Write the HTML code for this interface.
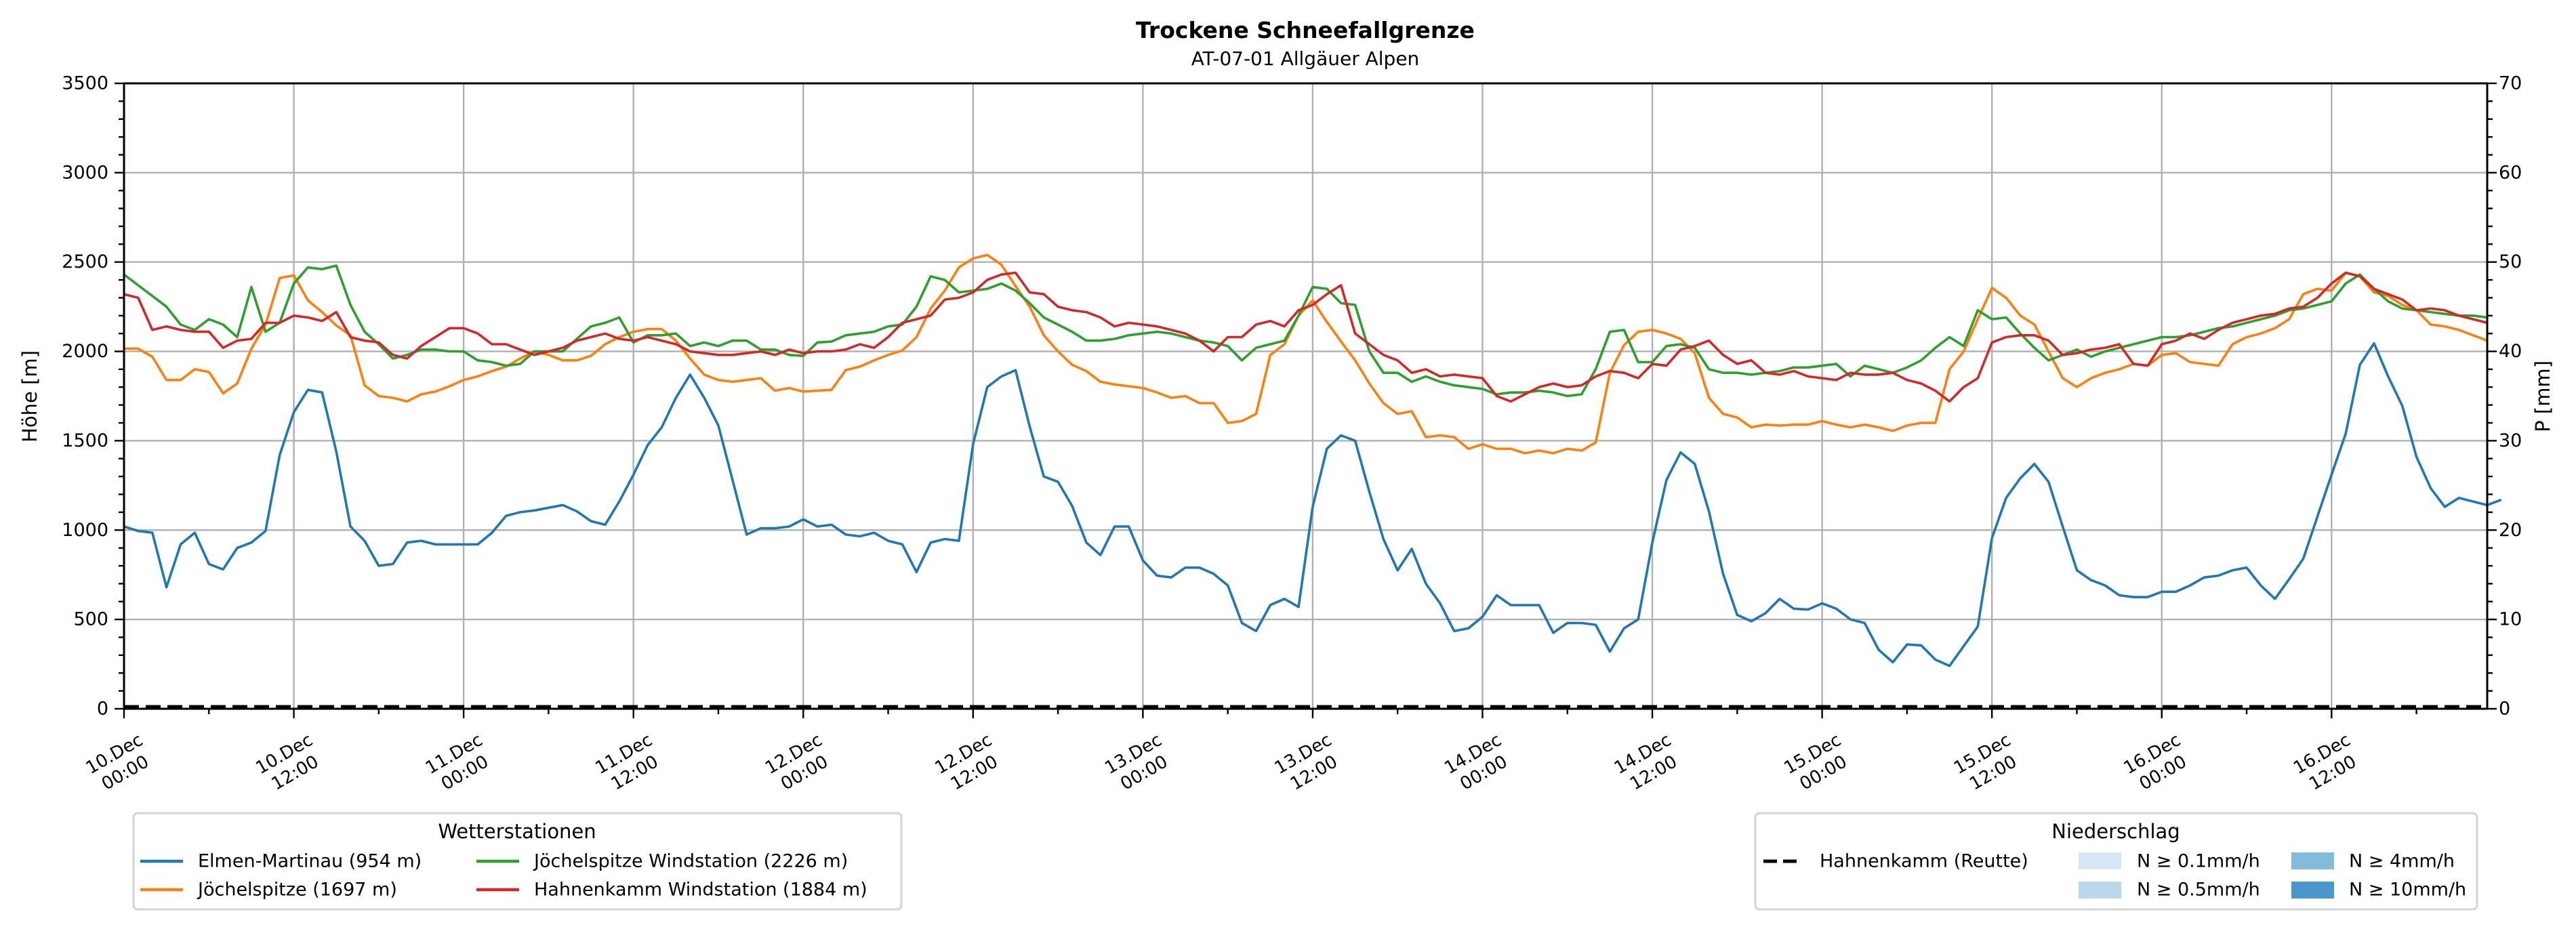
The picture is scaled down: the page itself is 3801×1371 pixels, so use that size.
<!DOCTYPE html>
<html><head><meta charset="utf-8"><style>
html,body{margin:0;padding:0;background:#fff;}
svg{display:block;font-family:"DejaVu Sans","Liberation Sans",sans-serif;}
</style></head><body>
<svg id="chart" width="3801" height="1371" viewBox="0 0 3801 1371" xmlns="http://www.w3.org/2000/svg">
<rect width="3801" height="1371" fill="#fff"/>
<text x="1926" y="56" text-anchor="middle" font-size="33" font-weight="bold">Trockene Schneefallgrenze</text>
<text x="1926" y="96" text-anchor="middle" font-size="28">AT-07-01 Allgäuer Alpen</text>
<g id="grid"></g>
<g id="series"></g>
<g id="axes"></g>
<text transform="translate(44,585) rotate(-90)" text-anchor="middle" dominant-baseline="central" font-size="29">Höhe [m]</text>
<text transform="translate(3752,585) rotate(-90)" text-anchor="middle" dominant-baseline="central" font-size="29">P [mm]</text>

<g>
<rect x="197" y="1200" width="1133" height="142" rx="6" fill="#fff" stroke="#d4d4d4" stroke-width="3"/>
<text x="763" y="1227" text-anchor="middle" dominant-baseline="central" font-size="29">Wetterstationen</text>
<g><line x1="207" y1="1271" x2="270" y2="1271" stroke="#1f77b4" stroke-width="4.5"/><text x="292" y="1271" dominant-baseline="central" font-size="27">Elmen-Martinau (954 m)</text></g>
<g><line x1="207" y1="1313" x2="270" y2="1313" stroke="#ff7f0e" stroke-width="4.5"/><text x="292" y="1313" dominant-baseline="central" font-size="27">Jöchelspitze (1697 m)</text></g>
<g><line x1="703" y1="1271" x2="766" y2="1271" stroke="#2ca02c" stroke-width="4.5"/><text x="788" y="1271" dominant-baseline="central" font-size="27">Jöchelspitze Windstation (2226 m)</text></g>
<g><line x1="703" y1="1313" x2="766" y2="1313" stroke="#d62728" stroke-width="4.5"/><text x="788" y="1313" dominant-baseline="central" font-size="27">Hahnenkamm Windstation (1884 m)</text></g>
</g>

<g>
<rect x="2590" y="1200" width="1065" height="142" rx="6" fill="#fff" stroke="#d4d4d4" stroke-width="3"/>
<text x="3122" y="1227" text-anchor="middle" dominant-baseline="central" font-size="29">Niederschlag</text>
<g><line x1="2602" y1="1271" x2="2660" y2="1271" stroke="#000" stroke-width="5" stroke-dasharray="20 9"/><text x="2685" y="1271" dominant-baseline="central" font-size="27">Hahnenkamm (Reutte)</text></g>
<g><rect x="3067" y="1258" width="63" height="25" fill="#d6e6f4"/><text x="3153" y="1271" dominant-baseline="central" font-size="27">N ≥ 0.1mm/h</text></g>
<g><rect x="3067" y="1301" width="63" height="25" fill="#bad6ea"/><text x="3153" y="1313" dominant-baseline="central" font-size="27">N ≥ 0.5mm/h</text></g>
<g><rect x="3381" y="1258" width="63" height="25" fill="#82bbdb"/><text x="3466" y="1271" dominant-baseline="central" font-size="27">N ≥ 4mm/h</text></g>
<g><rect x="3381" y="1301" width="63" height="25" fill="#4a98c9"/><text x="3466" y="1313" dominant-baseline="central" font-size="27">N ≥ 10mm/h</text></g>
</g>
</svg>
<script>
const xTickLabels = ["10.Dec\n00:00","10.Dec\n12:00","11.Dec\n00:00","11.Dec\n12:00","12.Dec\n00:00","12.Dec\n12:00","13.Dec\n00:00","13.Dec\n12:00","14.Dec\n00:00","14.Dec\n12:00","15.Dec\n00:00","15.Dec\n12:00","16.Dec\n00:00","16.Dec\n12:00"];
const yTicks = [0,500,1000,1500,2000,2500,3000,3500];
const y2Ticks = [0,10,20,30,40,50,60,70];
const elmen = [1020,995,985,680,920,985,810,780,900,930,995,1420,1660,1785,1770,1440,1020,940,800,810,930,940,920,920,920,920,985,1080,1100,1110,1125,1140,1105,1050,1030,1160,1310,1475,1575,1740,1870,1740,1585,1280,975,1010,1010,1020,1060,1020,1030,975,965,985,940,920,765,930,950,940,1480,1800,1860,1895,1580,1300,1270,1135,930,860,1020,1020,830,745,735,790,790,755,690,480,435,580,615,570,1130,1455,1530,1500,1215,950,775,895,700,590,435,450,515,635,580,580,580,425,480,480,470,320,450,500,930,1280,1435,1370,1105,755,525,490,535,615,560,555,590,560,500,480,330,260,360,355,275,240,350,460,955,1180,1290,1370,1270,1020,775,720,690,635,625,625,655,655,690,735,745,775,790,690,615,725,840,1075,1310,1540,1925,2045,1860,1695,1410,1235,1130,1180,1160,1140,1170];
const joechel = [2015,2015,1970,1840,1840,1900,1885,1765,1820,2015,2150,2410,2425,2285,2220,2145,2090,1810,1750,1740,1720,1760,1775,1805,1840,1860,1890,1915,1960,2000,1980,1950,1950,1975,2040,2080,2110,2125,2125,2060,1960,1870,1840,1830,1840,1850,1780,1795,1775,1780,1785,1895,1915,1950,1980,2005,2080,2240,2340,2470,2520,2540,2485,2365,2250,2090,2000,1925,1890,1830,1815,1805,1795,1770,1740,1750,1710,1710,1600,1610,1650,1980,2040,2200,2285,2165,2055,1950,1820,1710,1650,1665,1520,1530,1520,1455,1480,1455,1455,1430,1445,1430,1455,1445,1490,1880,2035,2110,2120,2100,2070,1990,1740,1650,1630,1575,1590,1585,1590,1590,1610,1590,1575,1590,1575,1555,1585,1600,1600,1900,2000,2180,2355,2300,2200,2150,2000,1850,1800,1850,1880,1900,1930,1920,1980,1990,1940,1930,1920,2040,2080,2100,2130,2180,2320,2350,2340,2440,2420,2330,2310,2260,2230,2150,2140,2120,2090,2060];
const joechelWind = [2430,2370,2310,2250,2150,2120,2180,2150,2080,2360,2110,2160,2380,2470,2460,2480,2260,2110,2040,1960,1980,2010,2010,2000,2000,1950,1940,1920,1930,2000,2000,2000,2070,2140,2160,2190,2050,2090,2090,2100,2030,2050,2030,2060,2060,2010,2010,1980,1975,2050,2055,2090,2100,2110,2140,2150,2250,2420,2400,2330,2340,2350,2380,2340,2270,2190,2150,2110,2060,2060,2070,2090,2100,2110,2100,2080,2060,2050,2030,1950,2020,2040,2060,2200,2360,2350,2270,2260,2000,1880,1880,1830,1860,1830,1810,1800,1790,1760,1770,1770,1780,1770,1750,1760,1900,2110,2120,1940,1940,2030,2040,2020,1900,1880,1880,1870,1880,1890,1910,1910,1920,1930,1860,1920,1900,1880,1910,1950,2020,2080,2030,2230,2180,2190,2100,2020,1950,1980,2010,1970,2000,2020,2040,2060,2080,2080,2090,2110,2130,2140,2160,2180,2200,2230,2240,2260,2280,2380,2430,2350,2280,2240,2230,2220,2210,2200,2200,2190];
const hahnenWind = [2320,2300,2120,2140,2120,2110,2110,2020,2060,2070,2160,2160,2200,2190,2170,2220,2080,2060,2050,1980,1960,2030,2080,2130,2130,2100,2040,2040,2010,1980,2000,2020,2060,2080,2100,2070,2060,2080,2060,2040,2000,1990,1980,1980,1990,2000,1980,2010,1990,2000,2000,2010,2040,2020,2080,2160,2180,2200,2290,2300,2330,2400,2430,2440,2330,2320,2250,2230,2220,2190,2140,2160,2150,2140,2120,2100,2060,2000,2080,2080,2150,2170,2140,2230,2260,2320,2370,2100,2040,1980,1950,1880,1900,1860,1870,1860,1850,1750,1720,1760,1800,1820,1800,1810,1860,1890,1880,1850,1930,1920,2010,2030,2060,1980,1930,1950,1880,1870,1890,1860,1850,1840,1880,1870,1870,1880,1840,1820,1780,1720,1800,1850,2050,2080,2090,2090,2060,1980,1990,2010,2020,2040,1930,1920,2040,2060,2100,2070,2120,2160,2180,2200,2210,2240,2250,2300,2380,2440,2420,2350,2320,2290,2230,2240,2230,2200,2180,2160];
const precipReutte = new Array(168).fill(0);

const X0=183, X1=3670, HMAX=167, Y0=1046, Y1=123, YMAX=3500, PMAX=70;
const NS="http://www.w3.org/2000/svg";
const xs = h => X0 + h*(X1-X0)/HMAX;
const ys = v => Y0 - v*(Y0-Y1)/YMAX;
const yp = v => Y0 - v*(Y0-Y1)/PMAX;
function mk(tag, attrs, parent){const e=document.createElementNS(NS,tag);for(const k in attrs)e.setAttribute(k,attrs[k]);parent.appendChild(e);return e;}
const grid=document.getElementById('grid'), axes=document.getElementById('axes'), series=document.getElementById('series');

yTicks.forEach(v=>{
  const g=mk('line',{x1:X0,x2:X1,y1:ys(v),y2:ys(v),stroke:'#b0b0b0','stroke-width':2.4},grid);
  
  
});
xTickLabels.forEach((l,i)=>{
  const g=mk('line',{x1:xs(i*12),x2:xs(i*12),y1:Y1,y2:Y0,stroke:'#b0b0b0','stroke-width':2.4},grid);
  
  
});

const colors=['#1f77b4','#ff7f0e','#2ca02c','#d62728'];
const names=['line-elmen-martinau','line-joechelspitze','line-joechelspitze-wind','line-hahnenkamm-wind'];
[elmen,joechel,joechelWind,hahnenWind].forEach((arr,si)=>{
  const d=arr.map((v,i)=>(i?'L':'M')+xs(i).toFixed(1)+','+ys(v).toFixed(1)).join('');
  const p=mk('path',{d:d,fill:'none',stroke:colors[si],'stroke-width':3.6,'stroke-linejoin':'round'},series);
  
  
});
{
  const d=precipReutte.map((v,i)=>(i?'L':'M')+xs(i).toFixed(1)+','+(yp(v)-3).toFixed(1)).join('');
  const p=mk('path',{d:d,fill:'none',stroke:'#000','stroke-width':5,'stroke-dasharray':'22 10'},series);
  
  
}

const fr=mk('rect',{x:X0,y:Y1,width:X1-X0,height:Y0-Y1,fill:'none',stroke:'#000','stroke-width':3},axes);



for(let v=0;v<=YMAX;v+=100){
  const major=v%500===0;
  mk('line',{x1:X0-(major?14:8),x2:X0,y1:ys(v),y2:ys(v),stroke:'#000','stroke-width':2.4},axes);
}
yTicks.forEach(v=>{
  const t=mk('text',{x:160,y:ys(v),'text-anchor':'end','dominant-baseline':'central','font-size':27},axes);
  t.textContent=v;
  
  
});
for(let v=0;v<=PMAX;v+=2){
  const major=v%10===0;
  mk('line',{x1:X1,x2:X1+(major?14:8),y1:yp(v),y2:yp(v),stroke:'#000','stroke-width':2.4},axes);
}
y2Ticks.forEach(v=>{
  const t=mk('text',{x:3687,y:yp(v),'text-anchor':'start','dominant-baseline':'central','font-size':27},axes);
  t.textContent=v;
  
  
});
for(let h=0;h<=HMAX;h+=6){
  const major=h%12===0;
  mk('line',{x1:xs(h),x2:xs(h),y1:Y0,y2:Y0+(major?14:8),stroke:'#000','stroke-width':2.4},axes);
}
xTickLabels.forEach((l,i)=>{
  const lines=l.split('\n');
  const g=mk('g',{transform:'translate('+(xs(i*12)-6)+',1127) rotate(-30)'},axes);
  
  
  lines.forEach((s,j)=>{
    const t=mk('text',{x:0,y:(j===0?-16:16),'text-anchor':'middle','dominant-baseline':'central','font-size':26},g);
    t.textContent=s;
  });
});
</script>
</body></html>
